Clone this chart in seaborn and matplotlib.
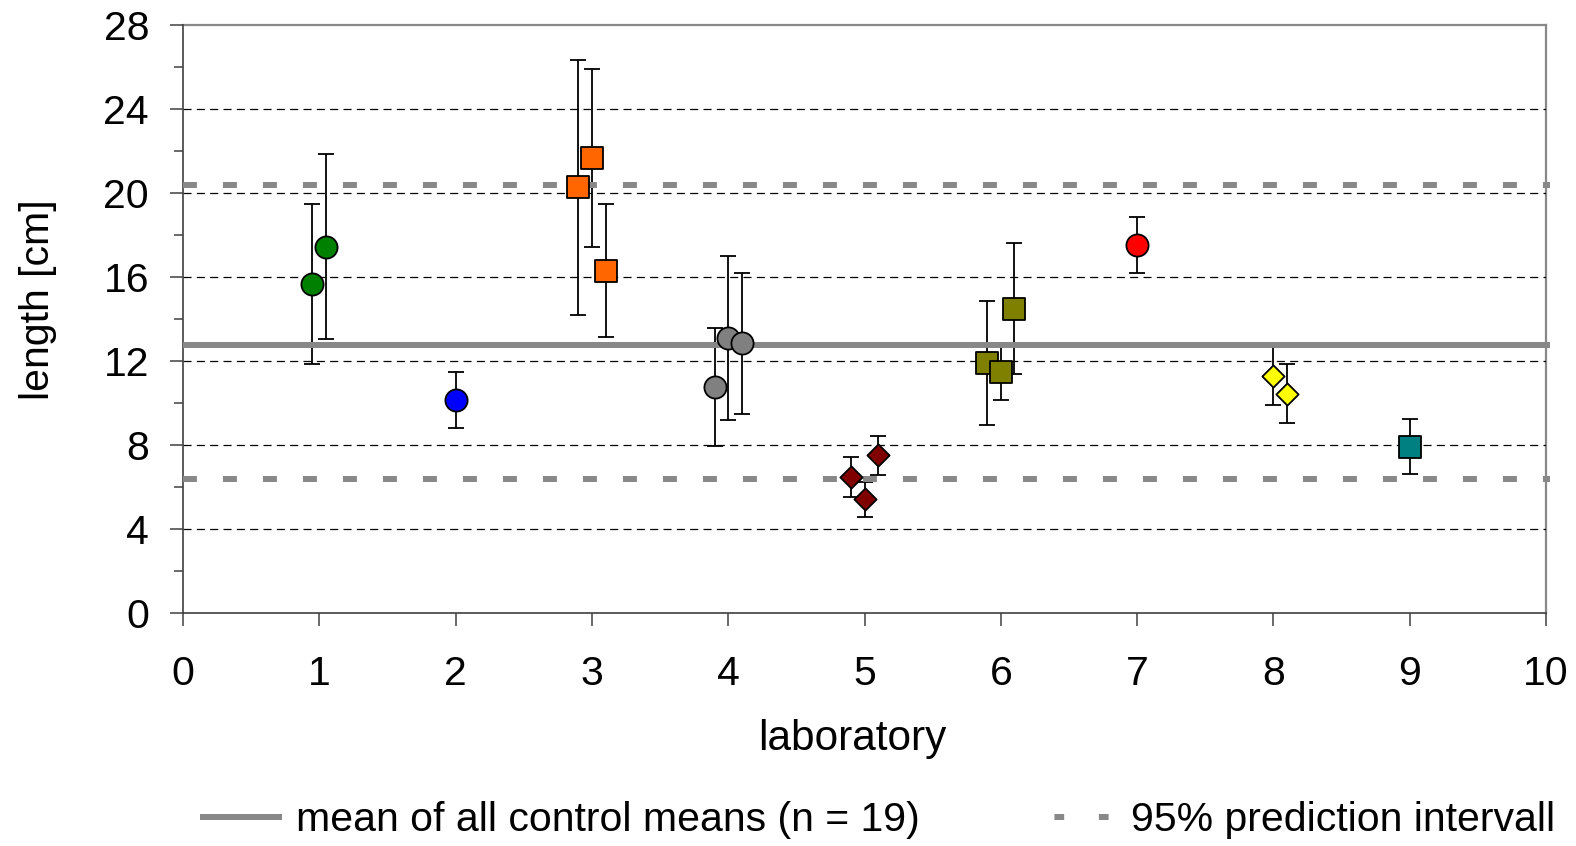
import matplotlib
matplotlib.use("Agg")
import matplotlib.pyplot as plt
from matplotlib.lines import Line2D
from matplotlib.ticker import FixedLocator
import numpy as np
import pandas as pd
import seaborn as sns

# ---- data: control means and SDs per laboratory ----
lab_group = ["1", "1", "2", "3", "3", "3", "4", "4", "4",
             "5", "5", "5", "6", "6", "6", "7", "8", "8", "9"]
x_pos = [0.95, 1.05, 2.0, 2.9, 3.0, 3.1, 3.9, 4.0, 4.1,
         4.9, 5.0, 5.1, 5.9, 6.0, 6.1, 7.0, 8.0, 8.1, 9.0]
mean_len = [15.67, 17.44, 10.14, 20.27, 21.67, 16.29, 10.75, 13.08, 12.84,
            6.46, 5.41, 7.51, 11.89, 11.49, 14.48, 17.52, 11.29, 10.44, 7.92]
sd_len = [3.8, 4.4, 1.35, 6.08, 4.24, 3.17, 2.8, 3.9, 3.36,
          0.95, 0.84, 0.93, 2.95, 1.35, 3.12, 1.33, 1.37, 1.41, 1.3]

group_color = {"1": "#008000", "2": "#0000FF", "3": "#FF6600", "4": "#808080",
               "5": "#800000", "6": "#808000", "7": "#FF0000", "8": "#FFFF00",
               "9": "#008080"}
group_marker = {"1": "o", "2": "o", "3": "s", "4": "o", "5": "D",
                "6": "s", "7": "o", "8": "D", "9": "s"}
marker_area = {"o": 255, "s": 255, "D": 128}

overall_mean = 12.75
pi_low, pi_high = 6.4, 20.4

x_ticks = list(range(0, 11))
y_ticks = list(range(0, 29, 4))

df = pd.DataFrame({"lab": lab_group, "x": x_pos, "length": mean_len, "sd": sd_len})

# ---- style ----
sns.set_theme(style="white")
plt.rcParams["font.family"] = ["Liberation Sans", "DejaVu Sans"]
plt.rcParams["lines.scale_dashes"] = False
plt.rcParams["text.color"] = "black"
plt.rcParams["axes.labelcolor"] = "black"
plt.rcParams["xtick.color"] = "black"
plt.rcParams["ytick.color"] = "black"

FS = 29.5

fig = plt.figure(figsize=(15.76, 8.46), dpi=100)
ax = fig.add_axes([183 / 1576, 1 - 613 / 846, (1546 - 183) / 1576, (613 - 25) / 846])

ax.set_xlim(0, 10)
ax.set_ylim(0, 28)

# dashed horizontal grid
for yv in y_ticks[1:-1]:
    ax.axhline(yv, color="black", lw=0.9, linestyle=(0, (5.8, 3.8)), zorder=1)

# error bars
ax.errorbar(df["x"], df["length"], yerr=df["sd"], fmt="none", ecolor="black",
            elinewidth=1.3, capsize=5.8, capthick=1.3, zorder=2)

# reference lines: mean of control means and prediction interval
ax.plot([0, 10.03], [overall_mean, overall_mean], color="#888888", lw=4.3,
        solid_capstyle="butt", clip_on=False, zorder=3)
for yv in (pi_low, pi_high):
    ax.plot([0, 10.03], [yv, yv], color="#888888", lw=4.3,
            linestyle=(0, (10, 18.8)), dash_capstyle="butt", clip_on=False, zorder=3)

# laboratory means
for g, sub in df.groupby("lab", sort=False):
    m = group_marker[g]
    sns.scatterplot(data=sub, x="x", y="length", ax=ax, color=group_color[g],
                    marker=m, s=marker_area[m], edgecolor="black", linewidth=1.3,
                    legend=False, zorder=4, clip_on=False)

# axes styling
for side in ("left", "bottom"):
    ax.spines[side].set_color("#404040")
    ax.spines[side].set_linewidth(1.2)
for side in ("top", "right"):
    ax.spines[side].set_color("#888888")
    ax.spines[side].set_linewidth(1.6)
    ax.spines[side].set_zorder(0.5)

ax.xaxis.set_major_locator(FixedLocator(x_ticks))
ax.yaxis.set_major_locator(FixedLocator(y_ticks))
ax.yaxis.set_minor_locator(FixedLocator([v + 2 for v in y_ticks[:-1]]))
ax.set_xticklabels([str(v) for v in x_ticks])
ax.set_yticklabels([str(v) for v in y_ticks])
ax.tick_params(axis="both", which="major", direction="out", length=9.4, width=1.1,
               color="#404040", labelsize=FS, labelcolor="black")
ax.tick_params(axis="y", which="minor", direction="out", length=6.5, width=1.1,
               color="#404040", left=True)
ax.tick_params(axis="x", pad=21)
ax.tick_params(axis="y", pad=15)
ax.tick_params(left=True, bottom=True, right=False, top=False)

ax.set_xlabel("laboratory", fontsize=FS + 1)
ax.set_ylabel("length [cm]", fontsize=FS)
ax.xaxis.set_label_coords((852 - 183) / 1363, (613 - 719) / 588)
ax.yaxis.set_label_coords((57 - 183) / 1363, (613 - 300) / 588)

# legend
h_mean = Line2D([], [], color="#888888", lw=4.3, solid_capstyle="butt")
h_pi = Line2D([], [], color="#888888", lw=4.3, dash_capstyle="butt",
              linestyle=(-14, (7, 25)))
fig.legend([h_mean, h_pi], ["mean of all control means (n = 19)", "95% prediction intervall"],
           loc="center left", bbox_to_anchor=(200 / 1576, 1 - 820 / 846),
           ncol=2, frameon=False, fontsize=FS, borderpad=0, borderaxespad=0,
           handlelength=2.0, handletextpad=0.35, columnspacing=2.8)

fig.savefig("out.png", dpi=100)
